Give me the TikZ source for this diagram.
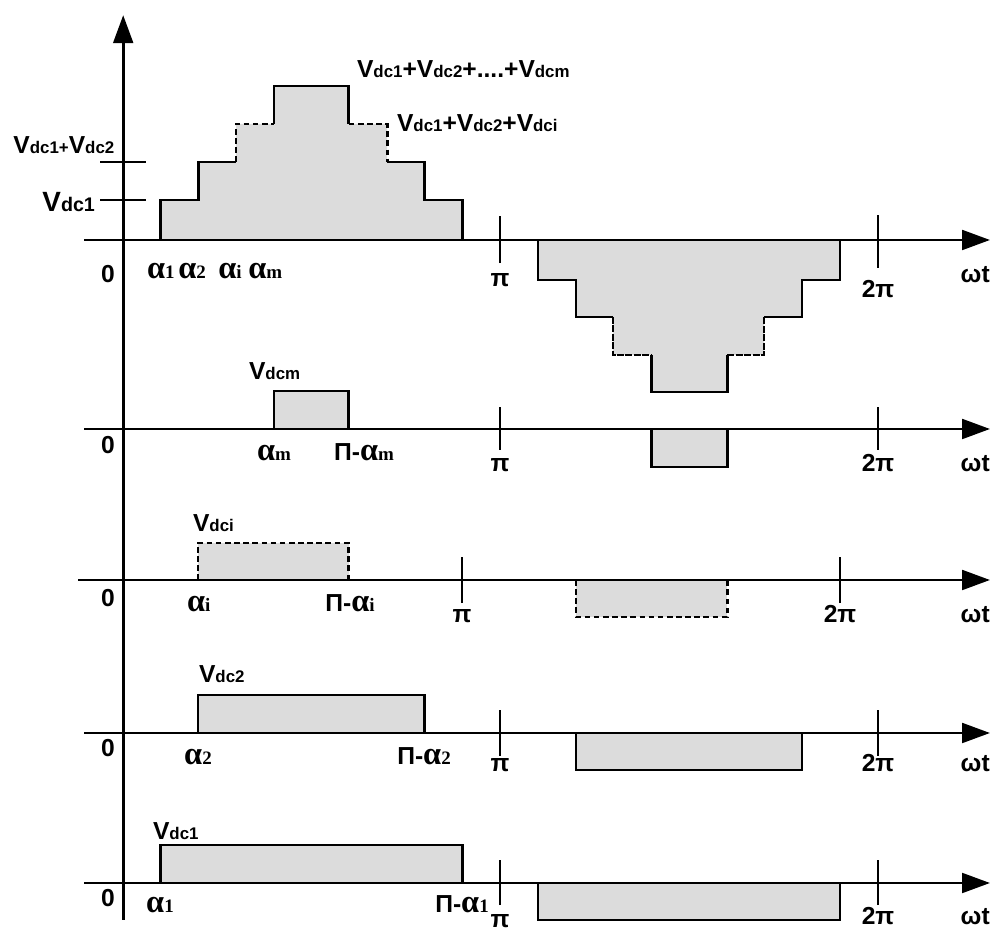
\documentclass[tikz,border=0pt]{standalone}
\usepackage{fontspec}
\setmainfont{Liberation Sans}
\newfontfamily\grk{Liberation Serif}
\usepackage{xcolor}
\usetikzlibrary{arrows.meta}
\definecolor{pulsefill}{RGB}{220,220,220}
\newcommand{\sbs}[1]{{\fontsize{12}{12}\selectfont #1}}
\newcommand{\vdc}[1]{V\sbs{dc#1}}
\newcommand{\alp}[1]{{\grk\fontsize{23}{23}\selectfont α{\fontsize{13.5}{13.5}\selectfont #1}}}

\begin{document}
\begin{tikzpicture}[scale=1.0,
    axisline/.style={line width=2pt, -{Triangle[length=19.8pt,width=14pt]}},
    outline/.style={line width=2pt},
    dashedline/.style={line width=2pt, dash pattern=on 4pt off 2.5pt},
    finedash/.style={line width=1.6pt, dash pattern=on 5pt off 1pt},
    lbl/.style={font=\fontsize{17.5}{20}\selectfont\bfseries, inner sep=0pt, anchor=base}]
  \useasboundingbox (0,0) rectangle (24.8,23.3);
  % preenchimentos
  \fill[pulsefill] (4.02,17.30) -- (4.02,18.30) -- (4.96,18.30) -- (4.96,19.25)
    -- (5.90,19.25) -- (5.90,20.20) -- (6.85,20.20) -- (6.85,21.15)
    -- (8.72,21.15) -- (8.72,20.20) -- (9.68,20.20) -- (9.68,19.25)
    -- (10.62,19.25) -- (10.62,18.30) -- (11.57,18.30) -- (11.57,17.30) -- cycle;
  \fill[pulsefill] (13.45,17.30) -- (13.45,16.30) -- (14.40,16.30) -- (14.40,15.375)
    -- (15.32,15.375) -- (15.32,14.425) -- (16.28,14.425) -- (16.28,13.50)
    -- (18.18,13.50) -- (18.18,14.425) -- (19.10,14.425) -- (19.10,15.375)
    -- (20.05,15.375) -- (20.05,16.30) -- (21.00,16.30) -- (21.00,17.30) -- cycle;
  \fill[pulsefill] (6.85,12.575) rectangle (8.72,13.525);
  \fill[pulsefill] (16.28,12.575) rectangle (18.18,11.625);
  \fill[pulsefill] (4.95,8.80) rectangle (8.72,9.725);
  \fill[pulsefill] (14.40,8.80) rectangle (18.18,7.875);
  \fill[pulsefill] (4.95,4.975) rectangle (10.62,5.925);
  \fill[pulsefill] (14.40,4.975) rectangle (20.05,4.05);
  \fill[pulsefill] (4.02,1.225) rectangle (11.57,2.175);
  \fill[pulsefill] (13.45,1.225) rectangle (21.00,0.30);

  % escada positiva
  \draw[outline] (4.02,17.30) -- (4.02,18.30) -- (4.96,18.30) -- (4.96,19.25) -- (5.90,19.25);
  \draw[dashedline] (5.90,19.25) -- (5.90,20.20) -- (6.85,20.20);
  \draw[outline] (6.85,20.20) -- (6.85,21.15) -- (8.72,21.15) -- (8.72,20.20);
  \draw[dashedline] (8.72,20.20) -- (9.68,20.20) -- (9.68,19.25);
  \draw[outline] (9.68,19.25) -- (10.62,19.25) -- (10.62,18.30) -- (11.57,18.30) -- (11.57,17.30);
  % escada negativa
  \draw[outline] (13.45,17.30) -- (13.45,16.30) -- (14.40,16.30) -- (14.40,15.375) -- (15.32,15.375);
  \draw[finedash] (15.32,15.375) -- (15.32,14.425) -- (16.28,14.425);
  \draw[outline] (16.28,14.425) -- (16.28,13.50) -- (18.18,13.50) -- (18.18,14.425);
  \draw[finedash] (18.18,14.425) -- (19.10,14.425) -- (19.10,15.375);
  \draw[outline] (19.10,15.375) -- (20.05,15.375) -- (20.05,16.30) -- (21.00,16.30) -- (21.00,17.30);

  % pulsos
  \draw[outline] (6.85,12.575) -- (6.85,13.525) -- (8.72,13.525) -- (8.72,12.575);
  \draw[outline] (16.28,12.575) -- (16.28,11.625) -- (18.18,11.625) -- (18.18,12.575);
  \draw[dashedline] (4.95,8.80) -- (4.95,9.725) -- (8.72,9.725) -- (8.72,8.80);
  \draw[dashedline] (14.40,8.80) -- (14.40,7.875) -- (18.18,7.875) -- (18.18,8.80);
  \draw[outline] (4.95,4.975) -- (4.95,5.925) -- (10.62,5.925) -- (10.62,4.975);
  \draw[outline] (14.40,4.975) -- (14.40,4.05) -- (20.05,4.05) -- (20.05,4.975);
  \draw[outline] (4.02,1.225) -- (4.02,2.175) -- (11.57,2.175) -- (11.57,1.225);
  \draw[outline] (13.45,1.225) -- (13.45,0.30) -- (21.00,0.30) -- (21.00,1.225);

  % eixos
  \draw[axisline] (3.08,0.30) -- (3.08,22.92);
  \draw[axisline] (2.10,17.30) -- (24.75,17.30);
  \draw[axisline] (2.10,12.575) -- (24.75,12.575);
  \draw[axisline] (1.95,8.80) -- (24.75,8.80);
  \draw[axisline] (2.10,4.975) -- (24.75,4.975);
  \draw[axisline] (2.10,1.225) -- (24.75,1.225);
  % marcas
  \draw[outline] (2.50,18.30) -- (3.65,18.30);
  \draw[outline] (2.50,19.25) -- (3.65,19.25);
  \draw[outline] (12.50,16.72) -- (12.50,17.90);
  \draw[outline] (21.95,16.60) -- (21.95,17.92);
  \draw[outline] (12.50,12.05) -- (12.50,13.13);
  \draw[outline] (21.95,12.05) -- (21.95,13.13);
  \draw[outline] (11.55,8.22) -- (11.55,9.38);
  \draw[outline] (21.00,8.22) -- (21.00,9.38);
  \draw[outline] (12.50,4.40) -- (12.50,5.55);
  \draw[outline] (21.95,4.40) -- (21.95,5.55);
  \draw[outline] (12.50,0.67) -- (12.50,1.80);
  \draw[outline] (21.95,0.67) -- (21.95,1.80);

  % r\'otulos: forma total
  \node[lbl, anchor=base west] (vsum) at (8.92,21.35) {\vdc{1}+\vdc{2}+....+\vdc{m}};
  \node[lbl, anchor=base west] (vsumi) at (9.92,20.00) {\vdc{1}+\vdc{2}+\vdc{i}};
  \node[lbl, anchor=base west] (vtwo) at (0.33,19.45) {\vdc{1}\sbs{+}\vdc{2}};
  \node[lbl, anchor=base east, font=\fontsize{19.8}{22}\selectfont\bfseries] (vone)
    at (2.38,18.00) {V{\fontsize{14}{14}\selectfont dc1}};
  \node[lbl] (za) at (2.70,16.225) {0};
  \node[lbl, anchor=base west] (aa1) at (3.67,16.325) {\alp{1}};
  \node[lbl, anchor=base west] (aa2) at (4.45,16.325) {\alp{2}};
  \node[lbl, anchor=base west] (aai) at (5.45,16.325) {\alp{i}};
  \node[lbl, anchor=base west] (aam) at (6.20,16.325) {\alp{m}};
  \node[lbl] (pia) at (12.50,16.125) {π};
  \node[lbl] (tpia) at (21.95,15.85) {2π};
  \node[lbl] (wta) at (24.38,16.225) {ωt};
  % r\'otulos: m
  \node[lbl, anchor=base west] (vm) at (6.22,13.80) {\vdc{m}};
  \node[lbl] (zb) at (2.70,11.95) {0};
  \node[lbl] (am) at (6.85,11.775) {\alp{m}};
  \node[lbl] (pam) at (9.10,11.775) {Π-\alp{m}};
  \node[lbl] (pib) at (12.50,11.50) {π};
  \node[lbl] (tpib) at (21.95,11.50) {2π};
  \node[lbl] (wtb) at (24.38,11.50) {ωt};
  % r\'otulos: i
  \node[lbl, anchor=base west] (vi) at (4.82,10.00) {\vdc{i}};
  \node[lbl] (zc) at (2.70,8.125) {0};
  \node[lbl] (ai) at (4.97,8.00) {\alp{i}};
  \node[lbl] (pai) at (8.75,8.00) {Π-\alp{i}};
  \node[lbl] (pic) at (11.55,7.725) {π};
  \node[lbl] (tpic) at (21.00,7.725) {2π};
  \node[lbl] (wtc) at (24.38,7.725) {ωt};
  % r\'otulos: 2
  \node[lbl, anchor=base west] (v2) at (4.97,6.225) {\vdc{2}};
  \node[lbl] (zd) at (2.70,4.375) {0};
  \node[lbl] (a2) at (4.95,4.175) {\alp{2}};
  \node[lbl] (pa2) at (10.60,4.175) {Π-\alp{2}};
  \node[lbl] (pid) at (12.50,4.00) {π};
  \node[lbl] (tpid) at (21.95,4.00) {2π};
  \node[lbl] (wtd) at (24.38,4.00) {ωt};
  % r\'otulos: 1
  \node[lbl, anchor=base west] (v1) at (3.82,2.30) {\vdc{1}};
  \node[lbl] (ze) at (2.70,0.625) {0};
  \node[lbl] (a1) at (4.00,0.475) {\alp{1}};
  \node[lbl] (pa1) at (11.55,0.475) {Π-\alp{1}};
  \node[lbl] (pie) at (12.50,0.10) {π};
  \node[lbl] (tpie) at (21.95,0.175) {2π};
  \node[lbl] (wte) at (24.38,0.175) {ωt};
\end{tikzpicture}
\end{document}
